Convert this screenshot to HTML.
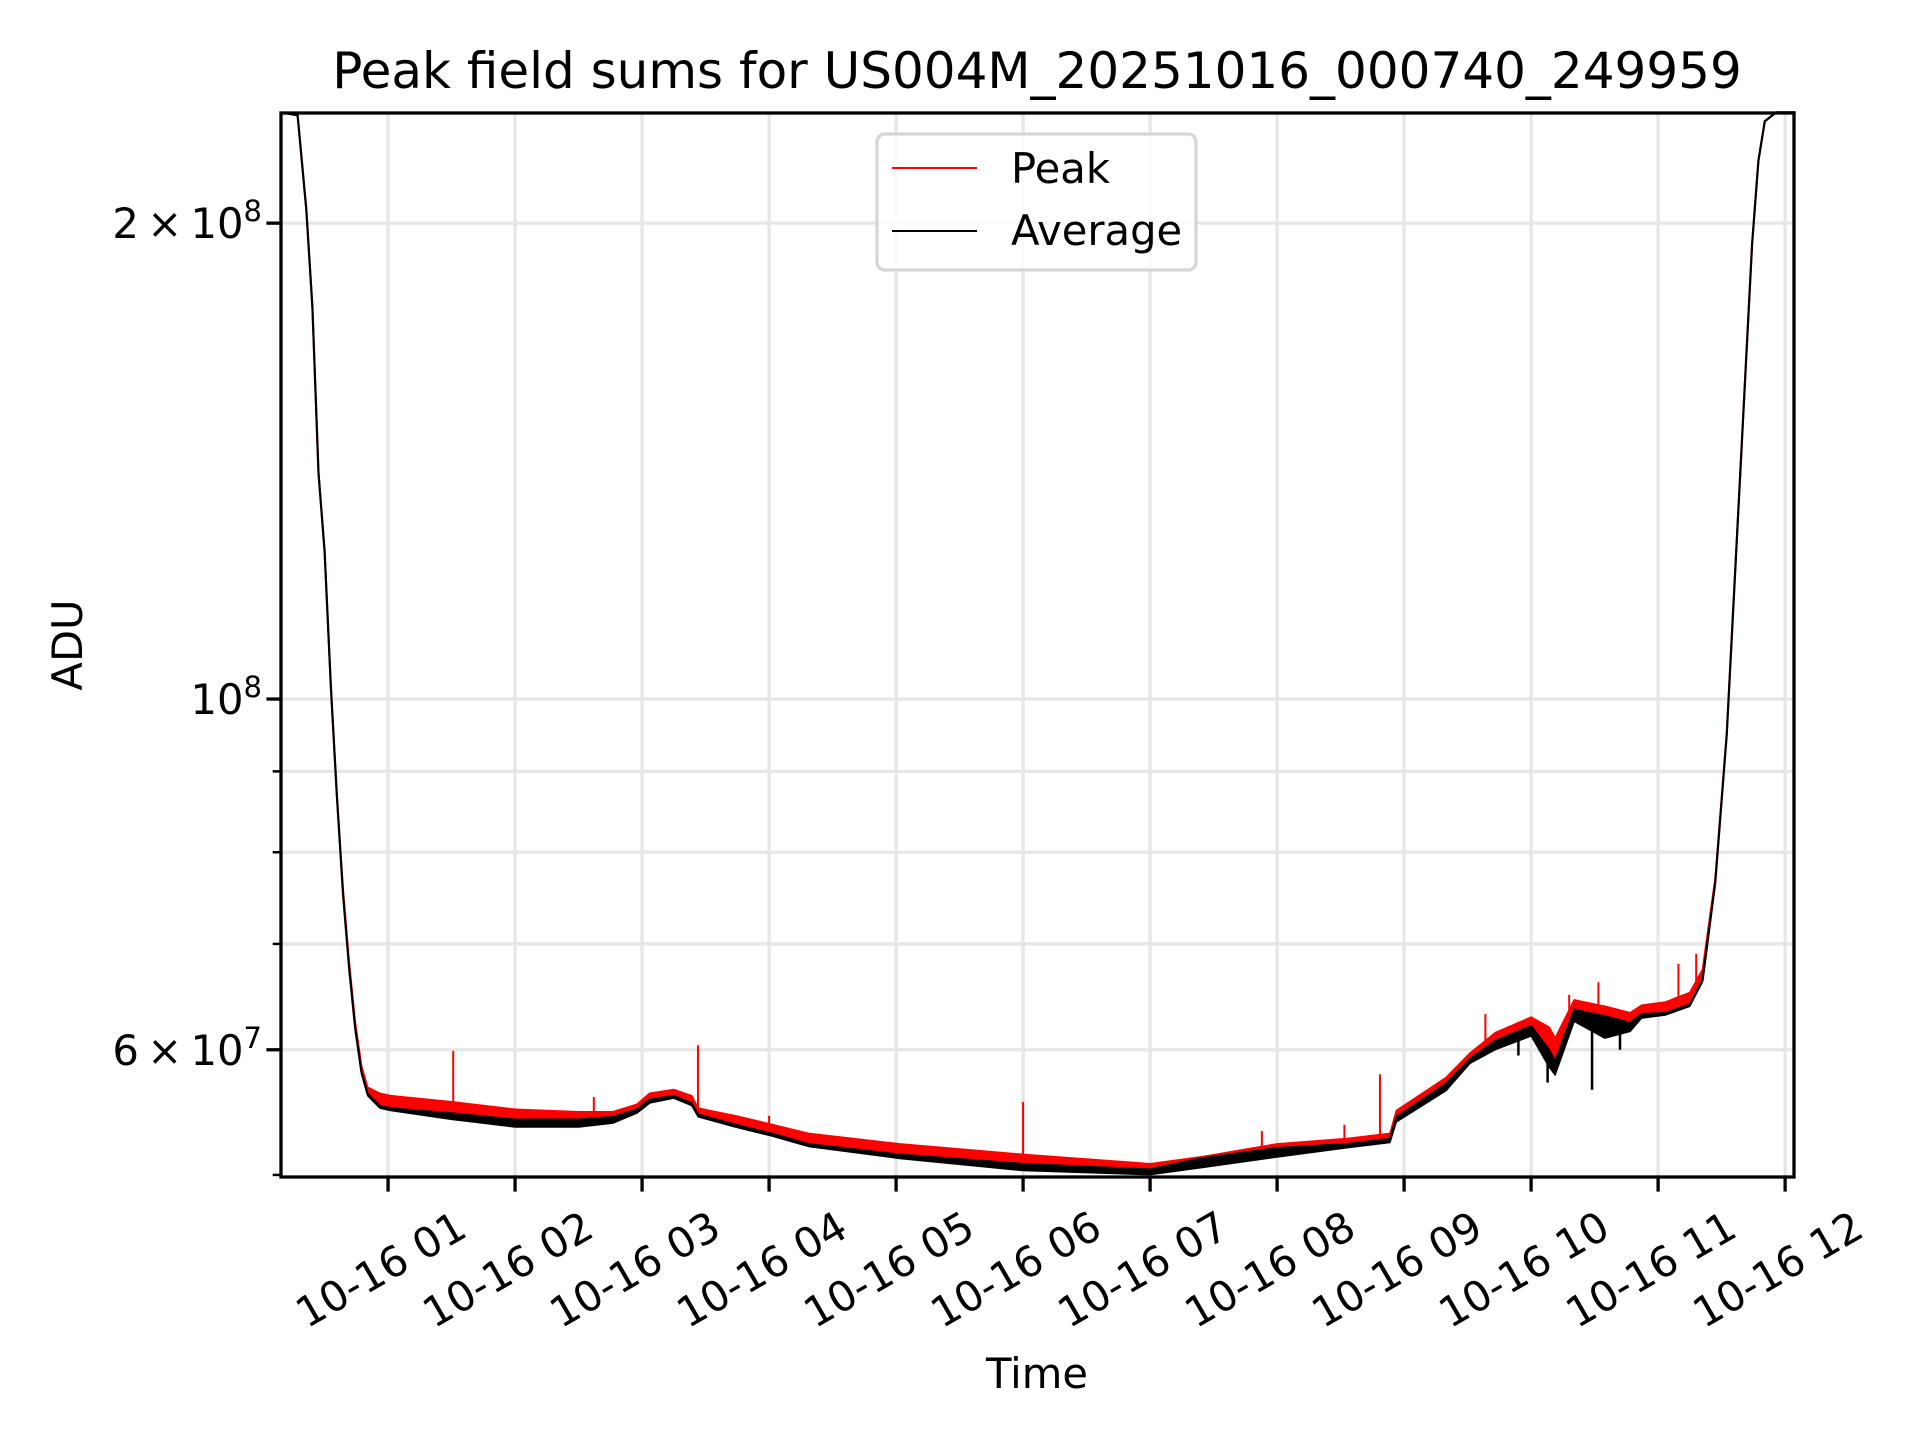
<!DOCTYPE html>
<html><head><meta charset="utf-8"><style>
html,body{margin:0;padding:0;background:#fff}
svg{display:block;font-family:"DejaVu Sans","Liberation Sans",sans-serif}
</style></head><body>
<svg id="chart" width="1920" height="1440" viewBox="0 0 1920 1440" xmlns="http://www.w3.org/2000/svg">
<rect width="1920" height="1440" fill="#fff"/>
<g id="grid"></g>
<g id="series"></g>
<g id="axes"></g>
<text x="1037" y="88" font-size="50" text-anchor="middle">Peak field sums for US004M_20251016_000740_249959</text>
<text x="0" y="0" font-size="41.7" text-anchor="middle" transform="translate(82,645) rotate(-90)">ADU</text>
<text x="1037" y="1388" font-size="41.7" text-anchor="middle">Time</text>
<g>
<rect x="877" y="134" width="319" height="136" rx="8" fill="#fff" fill-opacity="0.8" stroke="#d6d6d6" stroke-width="3.3"/>
<line x1="892" y1="168" x2="977" y2="168" stroke="#f00" stroke-width="2"/>
<text x="1011" y="183" font-size="41.7">Peak</text>
<line x1="892" y1="231" x2="977" y2="231" stroke="#000" stroke-width="2"/>
<text x="1011" y="245" font-size="41.7">Average</text>
</g>
</svg>
<script>
// values in units of 1e7 ADU, time in hours after 10-16 00:00
const hours = [0.153,0.288,0.356,0.404,0.452,0.500,0.549,0.597,0.645,0.693,0.741,0.790,0.838,0.934,1.021,1.5,2.0,2.5,2.77,2.96,3.06,3.25,3.39,3.44,3.73,4.02,4.31,5.03,6.0,7.0,7.39,8.0,8.55,8.89,8.94,9.33,9.52,9.72,10.0,10.14,10.19,10.34,10.58,10.78,10.87,11.06,11.25,11.35,11.45,11.54,11.64,11.69,11.74,11.79,11.84,11.93,12.08];
const avgValues = [23.5,23.4,20.4,17.7,13.9,12.4,10.2,8.68,7.53,6.76,6.19,5.81,5.63,5.53,5.51,5.47,5.42,5.42,5.44,5.50,5.58,5.61,5.55,5.46,5.38,5.31,5.23,5.15,5.08,5.04,5.12,5.20,5.23,5.27,5.44,5.71,5.92,6.08,6.21,6.0,5.9,6.36,6.30,6.24,6.32,6.33,6.41,6.64,7.66,9.49,13.56,16.2,19.4,21.9,23.2,23.5,23.5];
const peakValues = [23.5,23.4,20.4,17.7,13.9,12.4,10.2,8.68,7.58,6.81,6.24,5.86,5.68,5.63,5.61,5.56,5.50,5.48,5.48,5.54,5.63,5.66,5.61,5.51,5.45,5.38,5.31,5.23,5.15,5.08,5.13,5.23,5.27,5.31,5.49,5.76,5.97,6.15,6.29,6.2,6.1,6.45,6.39,6.33,6.4,6.43,6.52,6.74,7.7,9.5,13.56,16.2,19.4,21.9,23.2,23.5,23.5];
const lowValues = [23.5,23.4,20.4,17.7,13.9,12.4,10.2,8.68,7.53,6.76,6.19,5.79,5.61,5.51,5.49,5.42,5.36,5.36,5.39,5.47,5.55,5.59,5.53,5.44,5.36,5.29,5.21,5.12,5.03,5.0,5.05,5.13,5.2,5.24,5.4,5.65,5.88,6.0,6.12,5.85,5.78,6.25,6.1,6.16,6.28,6.31,6.39,6.62,7.66,9.49,13.56,16.2,19.4,21.9,23.2,23.5,23.5];
const peakSpikeHours = [1.513,2.62,3.44,4.0,6.0,7.88,8.53,8.81,9.64,10.3,10.53,11.16,11.3];
const peakSpikeValues = [5.99,5.60,6.04,5.45,5.56,5.33,5.38,5.79,6.32,6.5,6.62,6.8,6.9];
const avgDipHours = [10.13,10.48,9.9,10.7];
const avgDipValues = [5.72,5.66,5.95,6.0];
const xTickHours = [1,2,3,4,5,6,7,8,9,10,11,12];
const xTickLabels = ["10-16 01","10-16 02","10-16 03","10-16 04","10-16 05","10-16 06","10-16 07","10-16 08","10-16 09","10-16 10","10-16 11","10-16 12"];
const yMajorValues = [20,10,6];
const yMajorLabels = [["2\u2009×\u200910","8"],["10","8"],["6\u2009×\u200910","7"]];
const yMinorValues = [9,8,7,5];

const L=281,R=1794,T=113,B=1177;
const X0=0.157,X1=12.07;
const Y0=Math.log10(4.985),Y1=Math.log10(23.48);
function xs(h){return L+(h-X0)/(X1-X0)*(R-L);}
function ys(v){return B-(Math.log10(v)-Y0)/(Y1-Y0)*(B-T);}
const NS="http://www.w3.org/2000/svg";
function mk(tag,attrs,parent){const e=document.createElementNS(NS,tag);for(const k in attrs)e.setAttribute(k,attrs[k]);parent.appendChild(e);return e;}
const grid=document.getElementById('grid'),series=document.getElementById('series'),axes=document.getElementById('axes');

xTickHours.forEach((h,i)=>{
  const x=xs(h);
  const g=mk('line',{x1:x,y1:T,x2:x,y2:B,stroke:'#e6e6e6','stroke-width':3.3},grid);
  
  
  const t=mk('line',{x1:x,y1:B,x2:x,y2:B+14.6,stroke:'#000','stroke-width':3.3},axes);
  
  
  const lb=mk('text',{x:0,y:0,'font-size':41.7,'text-anchor':'middle',transform:`translate(${x},${B+105}) rotate(-30)`},axes);
  lb.textContent=xTickLabels[i];
  
  
});
yMajorValues.concat(yMinorValues).forEach((v,i)=>{
  const y=ys(v);const major=i<yMajorValues.length;
  if(v>5){const g=mk('line',{x1:L,y1:y,x2:R,y2:y,stroke:'#e6e6e6','stroke-width':3.3},grid);
  
  }
  const t=mk('line',{x1:L-(major?14.6:8.3),y1:y,x2:L,y2:y,stroke:'#000','stroke-width':major?3.3:2.5},axes);
  
  
  if(major){
    const lb=mk('text',{x:262,y:y+15,'font-size':41.7,'text-anchor':'end'},axes);
    
    
    const a=yMajorLabels[i];
    const s1=document.createElementNS(NS,'tspan');s1.textContent=a[0];lb.appendChild(s1);
    const s2=document.createElementNS(NS,'tspan');s2.textContent=a[1];s2.setAttribute('font-size','29');s2.setAttribute('dy','-17');lb.appendChild(s2);
  }
});

function band(up,down,color,name){
  let d='M'+hours.map((h,i)=>xs(h).toFixed(1)+','+ys(up[i]).toFixed(1)).join('L');
  for(let i=hours.length-1;i>=0;i--)d+='L'+xs(hours[i]).toFixed(1)+','+ys(down[i]).toFixed(1);
  const p=mk('path',{d:d+'Z',fill:color,stroke:color,'stroke-width':1,'stroke-linejoin':'round'},series);
  
  
}
band(peakValues,avgValues,'#f00','peak-noise-band');
peakSpikeHours.forEach((h,i)=>{
  let j=0;while(j<hours.length-2&&hours[j+1]<h)j++;
  const base=avgValues[j]+(avgValues[j+1]-avgValues[j])*(h-hours[j])/(hours[j+1]-hours[j]);
  const s=mk('line',{x1:xs(h),y1:ys(peakSpikeValues[i]),x2:xs(h),y2:ys(base),stroke:'#f00','stroke-width':2},series);
  
  
});
band(avgValues,lowValues,'#000','average-noise-band');
avgDipHours.forEach((h,i)=>{
  let j=0;while(j<hours.length-2&&hours[j+1]<h)j++;
  const base=avgValues[j]+(avgValues[j+1]-avgValues[j])*(h-hours[j])/(hours[j+1]-hours[j]);
  const s=mk('line',{x1:xs(h),y1:ys(avgDipValues[i]),x2:xs(h),y2:ys(base),stroke:'#000','stroke-width':2.5},series);
  
  
});
const pl=mk('polyline',{points:hours.map((h,i)=>xs(h).toFixed(1)+','+ys(peakValues[i]).toFixed(1)).join(' '),fill:'none',stroke:'#f00','stroke-width':2},series);


const al=mk('polyline',{points:hours.map((h,i)=>xs(h).toFixed(1)+','+ys(avgValues[i]).toFixed(1)).join(' '),fill:'none',stroke:'#000','stroke-width':2.2},series);


const fr=mk('rect',{x:L,y:T,width:R-L,height:B-T,fill:'none',stroke:'#000','stroke-width':3.3},axes);


</script>
</body></html>
